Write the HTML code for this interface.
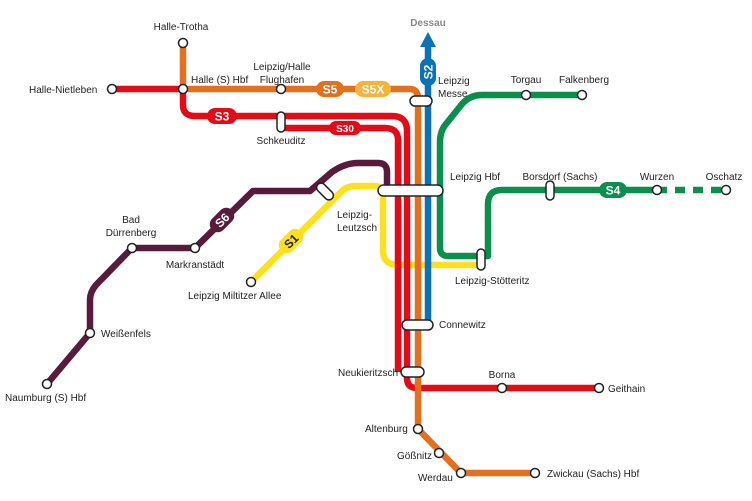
<!DOCTYPE html>
<html><head><meta charset="utf-8"><style>
html,body{margin:0;padding:0;background:#fff;}
svg{display:block;}
text{font-family:"Liberation Sans",sans-serif;font-size:10px;fill:#222;}
.b{font-weight:bold;fill:#fff;font-size:12px;}
</style></head><body>
<svg width="752" height="501" viewBox="0 0 752 501" xmlns="http://www.w3.org/2000/svg">
<g fill="none" stroke-width="6.5" stroke-linejoin="round">
<path d="M47,384 L90,333 L90,300 Q90,292 96,285 L132,248 L195,248 L253,191 L310,191 L332,172 Q345,163 358,163 L378,163 Q387,163 387,172 L387,190" stroke="#5a1a3c"/>
<path d="M251,282 L340,193 Q346,186 355,186 L375,186 Q383,186 383,196 L383,250 Q383,265 398,265 L481,265" stroke="#fde021"/>
<path d="M112,89 L183,89 L183,105 Q183,116 195,116 L392,116 Q407,116 407,131 L407,378 Q407,388 417,388 L599,388" stroke="#e30b17"/>
<path d="M281,128 L385,128 Q398,128 398,140 L398,372" stroke="#e30b17"/>
<path d="M183,43 L183,89 L410,89 Q418,89 418,99 L418,429 L461,473 L535,473" stroke="#e2701f"/>
<path d="M428,325 L428,45" stroke="#0a73b8"/>
<path d="M582,95 L482,95 Q470,95 462,104 L446,124 Q440,131 440,142 L440,248 Q440,256 448,256 L481,256" stroke="#0b8f4d"/>
<path d="M481,256 L488,256 L488,204 Q488,190 502,190 L657,190" stroke="#0b8f4d"/>
<path d="M657,190 L726,190" stroke="#0b8f4d" stroke-dasharray="10,8"/>
</g>
<polygon points="428,32 420,47 436,47" fill="#0a73b8"/>
<g>
<rect x="316" y="81" width="28" height="16" rx="8" fill="#e2701f"/><text class="b" x="330" y="93.5" text-anchor="middle">S5</text>
<rect x="355" y="81" width="36" height="16" rx="8" fill="#f8b33a"/><text class="b" x="373" y="93.5" text-anchor="middle">S5X</text>
<rect x="207" y="108" width="30" height="16" rx="8" fill="#e30b17"/><text class="b" x="222" y="120.5" text-anchor="middle">S3</text>
<rect x="329" y="121" width="32" height="14" rx="7" fill="#e30b17"/><text class="b" x="345" y="132" text-anchor="middle" style="font-size:10px">S30</text>
<rect x="420" y="58" width="16" height="28" rx="8" fill="#0a73b8"/><text class="b" x="0" y="0" text-anchor="middle" transform="translate(432.5,72) rotate(-90)">S2</text>
<rect x="599" y="182" width="28" height="16" rx="8" fill="#0b8f4d"/><text class="b" x="613" y="194.5" text-anchor="middle">S4</text>
<g transform="translate(222,220) rotate(-45)"><rect x="-14" y="-8" width="28" height="16" rx="8" fill="#5a1a3c"/><text class="b" x="0" y="4.5" text-anchor="middle">S6</text></g>
<g transform="translate(291,241) rotate(-45)"><rect x="-14" y="-8" width="28" height="16" rx="8" fill="#fde021"/><text class="b" x="0" y="4.5" text-anchor="middle" style="fill:#222">S1</text></g>
</g>
<g fill="#fff" stroke="#222" stroke-width="1.5">
<circle cx="112" cy="89" r="4.5"/><circle cx="183" cy="89" r="4.5"/><circle cx="183" cy="43" r="4.5"/>
<circle cx="281" cy="89" r="4.5"/>
<rect x="277" y="112" width="8" height="20" rx="4"/>
<rect x="410" y="96" width="22" height="10" rx="5"/>
<rect x="378" y="185" width="65" height="11" rx="5.5"/>
<rect x="315" y="187" width="20" height="9" rx="4.5" transform="rotate(45 325 191.5)"/>
<circle cx="526" cy="95" r="4.5"/><circle cx="582" cy="95" r="4.5"/>
<rect x="546" y="181" width="8" height="19" rx="4"/>
<circle cx="657" cy="190" r="4.5"/><circle cx="726" cy="190" r="4.5"/>
<rect x="477" y="249" width="8" height="21" rx="4"/>
<rect x="402" y="320" width="31" height="10" rx="5"/>
<rect x="401" y="367" width="23" height="10" rx="5"/>
<circle cx="502" cy="388" r="4.5"/><circle cx="599" cy="388" r="4.5"/>
<circle cx="418" cy="429" r="4.5"/><circle cx="439" cy="453" r="4.5"/><circle cx="461" cy="473" r="4.5"/><circle cx="535" cy="473" r="4.5"/>
<circle cx="132" cy="248" r="4.5"/><circle cx="195" cy="248" r="4.5"/><circle cx="90" cy="333" r="4.5"/><circle cx="47" cy="384" r="4.5"/>
<circle cx="251" cy="282" r="4.5"/>
</g>
<text x="428" y="26" text-anchor="middle" style="fill:#888;font-weight:bold">Dessau</text>
<text x="181" y="30" text-anchor="middle">Halle-Trotha</text>
<text x="29" y="93">Halle-Nietleben</text>
<text x="191" y="83">Halle (S) Hbf</text>
<text x="282" y="70" text-anchor="middle">Leipzig/Halle</text>
<text x="282" y="83" text-anchor="middle">Flughafen</text>
<text x="281" y="144" text-anchor="middle">Schkeuditz</text>
<text x="438" y="84">Leipzig</text><text x="438" y="97">Messe</text>
<text x="526" y="83" text-anchor="middle">Torgau</text>
<text x="584" y="83" text-anchor="middle">Falkenberg</text>
<text x="450" y="180">Leipzig Hbf</text>
<text x="560" y="180" text-anchor="middle">Borsdorf (Sachs)</text>
<text x="657" y="180" text-anchor="middle">Wurzen</text>
<text x="724" y="180" text-anchor="middle">Oschatz</text>
<text x="337" y="218">Leipzig-</text><text x="337" y="231">Leutzsch</text>
<text x="455" y="284">Leipzig-Stötteritz</text>
<text x="131" y="223" text-anchor="middle">Bad</text><text x="131" y="236" text-anchor="middle">Dürrenberg</text>
<text x="195" y="268" text-anchor="middle">Markranstädt</text>
<text x="188" y="299">Leipzig Miltitzer Allee</text>
<text x="101" y="337">Weißenfels</text>
<text x="5" y="401">Naumburg (S) Hbf</text>
<text x="439" y="328">Connewitz</text>
<text x="338" y="376">Neukieritzsch</text>
<text x="502" y="378" text-anchor="middle">Borna</text>
<text x="608" y="392">Geithain</text>
<text x="365" y="432">Altenburg</text>
<text x="397" y="459">Gößnitz</text>
<text x="418" y="481">Werdau</text>
<text x="547" y="477">Zwickau (Sachs) Hbf</text>
</svg>
</body></html>
